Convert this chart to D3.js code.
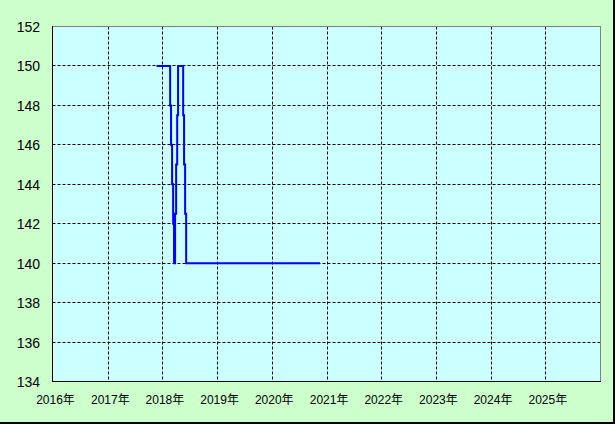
<!DOCTYPE html>
<html>
<head>
<meta charset="utf-8">
<script src="https://cdn.jsdelivr.net/npm/d3@7"></script>
<style>
  html, body { margin: 0; padding: 0; background: #ffffff; }
  svg { display: block; }
  text { font-family: "Liberation Sans", Arial, "Noto Sans CJK JP", sans-serif; fill: #000; }
</style>
</head>
<body>
<svg id="chart" width="615" height="424"></svg>
<script>
// ---- data ----
const dates = ["2017-11-19","2018-02-18","2018-02-24","2018-03-03","2018-03-10","2018-03-16",
               "2018-03-23","2018-03-30","2018-04-06","2018-04-12","2018-05-16","2018-05-22",
               "2018-05-29","2018-06-05","2020-11-15"];
const prices = [150,148,146,144,142,140,142.5,145,147.5,150,147.5,145,142.5,140,140];
const yearTicks = [2016,2017,2018,2019,2020,2021,2022,2023,2024,2025];
const yTicks = [134,136,138,140,142,144,146,148,150,152];

const parse = d3.timeParse("%Y-%m-%d");
const data = dates.map((d, i) => ({ date: parse(d), value: prices[i] }));

const svg = d3.select("#chart");
const W = 615, H = 424;
const L = 52.5, R = 600.5, T = 26.5, B = 381.5;

// background
svg.append("rect").attr("x", 0).attr("y", 0).attr("width", W).attr("height", H).attr("fill", "#ccffcc");
// outer dark edges (right & bottom)
svg.append("rect").attr("x", 613).attr("y", 0).attr("width", 2).attr("height", H).attr("fill", "#000");
svg.append("rect").attr("x", 0).attr("y", 422).attr("width", W).attr("height", 2).attr("fill", "#000");

const x = d3.scaleTime()
  .domain([new Date(2016, 0, 1), new Date(2026, 0, 1)])
  .range([L + 1, R]);
const y = d3.scaleLinear().domain([134, 152]).range([B, T]);

// plot area
svg.append("rect").attr("x", L).attr("y", T).attr("width", R - L).attr("height", B - T).attr("fill", "#ccffff");

const snap = v => Math.floor(v) + 0.5;

// horizontal grid
svg.append("g").selectAll("line").data(yTicks.filter(v => v > 134 && v < 152)).join("line")
  .attr("x1", L).attr("x2", R)
  .attr("y1", d => snap(y(d))).attr("y2", d => snap(y(d)))
  .attr("stroke", "#000").attr("stroke-width", 1).attr("stroke-dasharray", "3,2");

// vertical grid
svg.append("g").selectAll("line").data(yearTicks.filter(v => v > 2016)).join("line")
  .attr("x1", d => snap(x(new Date(d, 0, 1)))).attr("x2", d => snap(x(new Date(d, 0, 1))))
  .attr("y1", T).attr("y2", B)
  .attr("stroke", "#000").attr("stroke-width", 1).attr("stroke-dasharray", "3,2");

// plot borders
svg.append("line").attr("x1", L).attr("x2", R + 0.5).attr("y1", T).attr("y2", T).attr("stroke", "#808080");
svg.append("line").attr("x1", R).attr("x2", R).attr("y1", T).attr("y2", B).attr("stroke", "#808080");
svg.append("line").attr("x1", L).attr("x2", L).attr("y1", T - 0.5).attr("y2", B + 0.5).attr("stroke", "#000");
svg.append("line").attr("x1", L).attr("x2", R + 0.5).attr("y1", B).attr("y2", B).attr("stroke", "#000");

// y labels
svg.append("g").selectAll("text").data(yTicks).join("text")
  .attr("x", 40).attr("y", d => y(d) + 5.5)
  .attr("text-anchor", "end").attr("font-size", 14)
  .text(d => d);

// x labels
svg.append("g").selectAll("text").data(yearTicks).join("text")
  .attr("x", d => x(new Date(d, 0, 1)) + 2).attr("y", 404)
  .attr("text-anchor", "middle").attr("font-size", 12)
  .text(d => d + "年");

// line
const line = d3.line().x(d => x(d.date)).y(d => y(d.value)).curve(d3.curveStepAfter);
svg.append("path").datum(data).attr("d", line)
  .attr("fill", "none").attr("stroke", "#0000ff").attr("stroke-width", 2);
</script>
</body>
</html>
